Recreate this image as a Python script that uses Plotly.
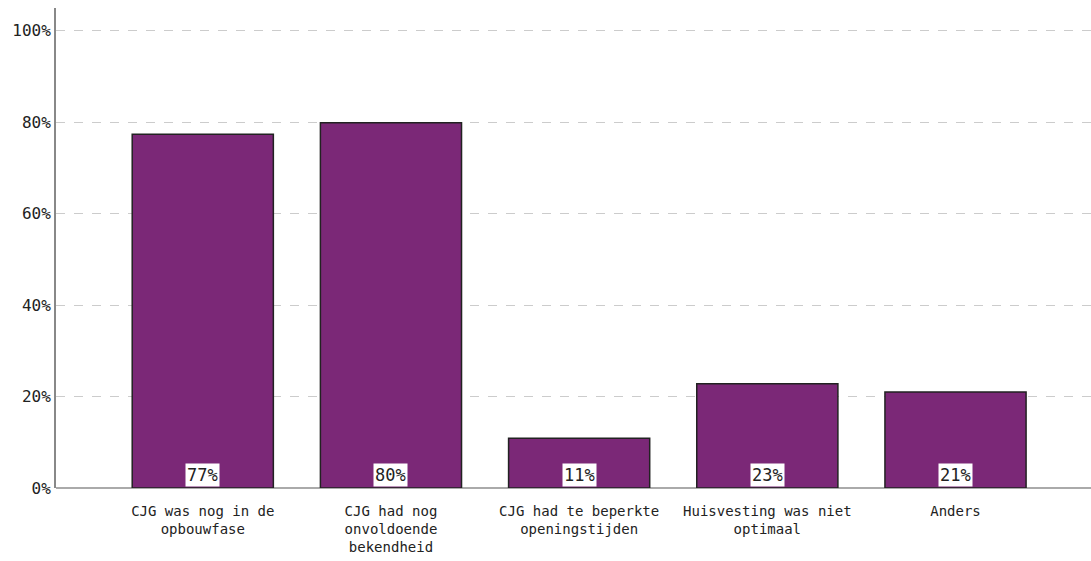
import plotly.graph_objects as go

categories = ["CJG was nog in de<br>opbouwfase", "CJG had nog<br>onvoldoende<br>bekendheid",
              "CJG had te beperkte<br>openingstijden", "Huisvesting was niet<br>optimaal", "Anders"]
values = [77.4, 79.9, 10.9, 22.8, 21.0]
labels = ["77%", "80%", "11%", "23%", "21%"]
yticks = [0, 20, 40, 60, 80, 100]
yticklabels = ["0%", "20%", "40%", "60%", "80%", "100%"]

FONT = "DejaVu Sans Mono"
x = list(range(len(categories)))

fig = go.Figure()
fig.add_trace(go.Bar(
    x=x, y=values, width=0.75,
    marker=dict(color="#7B2877", line=dict(color="#222222", width=1.5)),
    hoverinfo="skip",
))
for xi, lab in zip(x, labels):
    fig.add_annotation(x=xi, y=0, text=lab, showarrow=False, yanchor="bottom", yshift=1,
                       bgcolor="white", borderpad=1,
                       font=dict(family=FONT, size=17, color="#222"))

fig.update_layout(
    width=1091, height=561,
    margin=dict(l=56, r=0, t=8, b=73, autoexpand=False),
    paper_bgcolor="white", plot_bgcolor="white",
    showlegend=False,
    font=dict(family=FONT, size=14, color="#222"),
    xaxis=dict(range=[-0.78, 4.72], tickmode="array", tickvals=x, ticktext=categories,
               showgrid=False, showline=False, zeroline=False,
               ticks="outside", ticklen=10, tickcolor="rgba(0,0,0,0)",
               automargin=False,
               tickfont=dict(family=FONT, size=14, color="#222")),
    yaxis=dict(range=[0, 105], tickmode="array", tickvals=yticks, ticktext=yticklabels,
               showgrid=True, gridcolor="#cccccc", griddash="dash", gridwidth=1,
               zeroline=True, zerolinecolor="#aaaaaa", zerolinewidth=2,
               showline=True, linecolor="#888888", linewidth=2,
               ticks="", ticklen=0, automargin=False,
               tickfont=dict(family=FONT, size=16, color="#222")),
)
fig.write_html("out.html", config={"displayModeBar": False, "staticPlot": True},
               post_script="document.body.style.margin='0';document.body.style.overflow='hidden';"
                           "var gd=document.getElementById('{plot_id}');Plotly.relayout(gd,{width:1091,height:561});")
